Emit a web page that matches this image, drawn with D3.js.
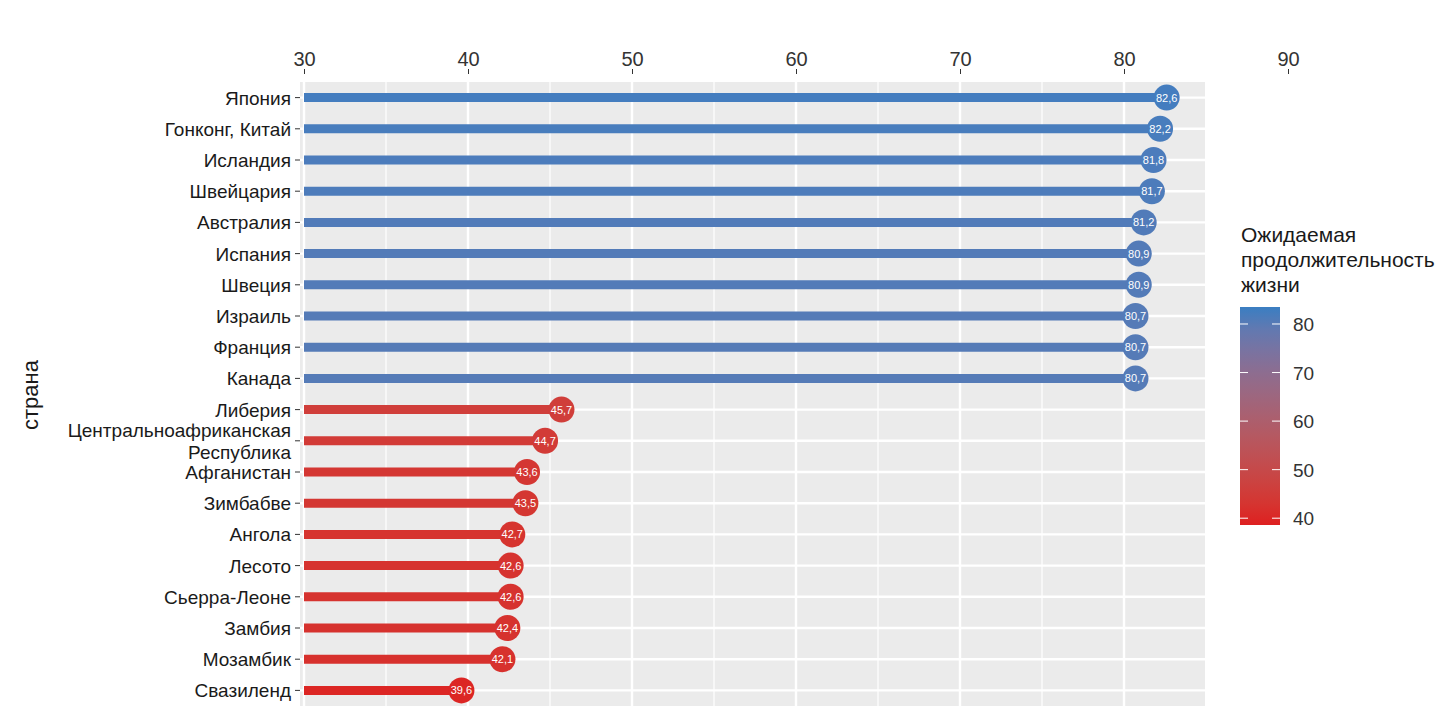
<!DOCTYPE html>
<html><head><meta charset="utf-8">
<script src="https://cdn.jsdelivr.net/npm/d3@7"></script>
<style>body{margin:0;background:#fff}text{font-family:"Liberation Sans",Arial,sans-serif}</style>
</head><body><svg id="chart" width="1440" height="720"></svg>
<script>
// data
var countries = ['Япония','Гонконг, Китай','Исландия','Швейцария','Австралия','Испания','Швеция','Израиль','Франция','Канада',
  'Либерия','Центральноафриканская\nРеспублика','Афганистан','Зимбабве','Ангола','Лесото','Сьерра-Леоне','Замбия','Мозамбик','Свазиленд'];
var lifeExp = [82.6,82.2,81.8,81.7,81.2,80.9,80.9,80.7,80.7,80.7,45.7,44.7,43.6,43.5,42.7,42.6,42.6,42.4,42.1,39.6];
var xTicks = [30,40,50,60,70,80,90];
var legendTicks = [40,50,60,70,80];

var svg = d3.select('#chart');
var panelLeft = 300, panelRight = 1205, panelTop = 82, panelBottom = 706;

var x = d3.scaleLinear().domain([30, 90]).range([304, 1288]);
var y = d3.scaleBand().domain(countries).range([panelTop, panelBottom]).padding(0);
var color = d3.scaleLinear().domain([38.6, 83.5]).range(['#de2020', '#3a7ec2']).interpolate(d3.interpolateLab);

// panel
svg.append('rect').attr('x', panelLeft).attr('y', panelTop)
  .attr('width', panelRight - panelLeft).attr('height', panelBottom - panelTop).attr('fill', '#ebebeb');
var g = svg.append('g');
d3.range(35, 90, 10).forEach(function(v) {
  g.append('line').attr('x1', x(v)).attr('x2', x(v)).attr('y1', panelTop).attr('y2', panelBottom)
    .attr('stroke', '#fff').attr('stroke-width', 1.2);
});
xTicks.filter(function(v) { return x(v) < panelRight; }).forEach(function(v) {
  g.append('line').attr('x1', x(v)).attr('x2', x(v)).attr('y1', panelTop).attr('y2', panelBottom)
    .attr('stroke', '#fff').attr('stroke-width', 2.4);
});
countries.forEach(function(c) {
  var cy = y(c) + y.bandwidth() / 2;
  g.append('line').attr('x1', panelLeft).attr('x2', panelRight).attr('y1', cy).attr('y2', cy)
    .attr('stroke', '#fff').attr('stroke-width', 2.4);
});

// top axis
var xAxis = svg.append('g').attr('transform', 'translate(0,74)')
  .call(d3.axisTop(x).tickValues(xTicks).tickSize(5).tickPadding(3));
xAxis.select('.domain').remove();
xAxis.selectAll('line').attr('stroke', '#333');
xAxis.selectAll('text').attr('font-size', 20).attr('fill', '#333');

// left axis
var yAxis = svg.append('g').attr('transform', 'translate(' + panelLeft + ',0)')
  .call(d3.axisLeft(y).tickSize(5).tickPadding(4).tickFormat(''));
yAxis.select('.domain').remove();
yAxis.selectAll('line').attr('stroke', '#333');
countries.forEach(function(c) {
  var lines = c.split('\n');
  var cy = y(c) + y.bandwidth() / 2;
  var t = svg.append('text').attr('x', 291).attr('text-anchor', 'end')
    .attr('font-size', 19).attr('fill', '#1a1a1a');
  lines.forEach(function(l, i) {
    t.append('tspan').attr('x', 291).attr('y', cy + 7 + (i - (lines.length - 1) / 2) * 22).text(l);
  });
});
svg.append('text').attr('transform', 'translate(38,395) rotate(-90)').attr('text-anchor', 'middle')
  .attr('font-size', 22).attr('fill', '#1a1a1a').text('страна');

// lollipops
var rows = countries.map(function(c, i) { return {c: c, v: lifeExp[i]}; });
var marks = svg.append('g').selectAll('g').data(rows).enter().append('g');
marks.append('line')
  .attr('x1', x(30)).attr('x2', function(d) { return x(d.v); })
  .attr('y1', function(d) { return y(d.c) + y.bandwidth() / 2; })
  .attr('y2', function(d) { return y(d.c) + y.bandwidth() / 2; })
  .attr('stroke', function(d) { return color(d.v); }).attr('stroke-width', 9);
marks.append('circle')
  .attr('cx', function(d) { return x(d.v); })
  .attr('cy', function(d) { return y(d.c) + y.bandwidth() / 2; })
  .attr('r', 13).attr('fill', function(d) { return color(d.v); });
marks.append('text')
  .attr('x', function(d) { return x(d.v); })
  .attr('y', function(d) { return y(d.c) + y.bandwidth() / 2 + 4; })
  .attr('text-anchor', 'middle').attr('font-size', 11).attr('fill', '#fff')
  .text(function(d) { return String(d.v.toFixed(1)).replace('.', ','); });

// legend
var defs = svg.append('defs');
var grad = defs.append('linearGradient').attr('id', 'lg').attr('x1', 0).attr('x2', 0).attr('y1', 1).attr('y2', 0);
d3.range(0, 1.01, 0.1).forEach(function(t) {
  grad.append('stop').attr('offset', t).attr('stop-color', color(38.6 + t * (83.5 - 38.6)));
});
var ly = d3.scaleLinear().domain([38.6, 83.5]).range([525, 307]);
svg.append('rect').attr('x', 1240).attr('y', ly(83.5)).attr('width', 40).attr('height', ly(38.6) - ly(83.5))
  .attr('fill', 'url(#lg)');
legendTicks.forEach(function(v) {
  svg.append('line').attr('x1', 1240).attr('x2', 1248).attr('y1', ly(v)).attr('y2', ly(v)).attr('stroke', '#fff');
  svg.append('line').attr('x1', 1272).attr('x2', 1280).attr('y1', ly(v)).attr('y2', ly(v)).attr('stroke', '#fff');
  svg.append('text').attr('x', 1293).attr('y', ly(v) + 7).attr('font-size', 19).attr('fill', '#333').text(v);
});
['Ожидаемая', 'продолжительность', 'жизни'].forEach(function(l, i) {
  svg.append('text').attr('x', 1241).attr('y', 242 + i * 25).attr('font-size', 21).attr('fill', '#1a1a1a').text(l);
});
</script></body></html>
